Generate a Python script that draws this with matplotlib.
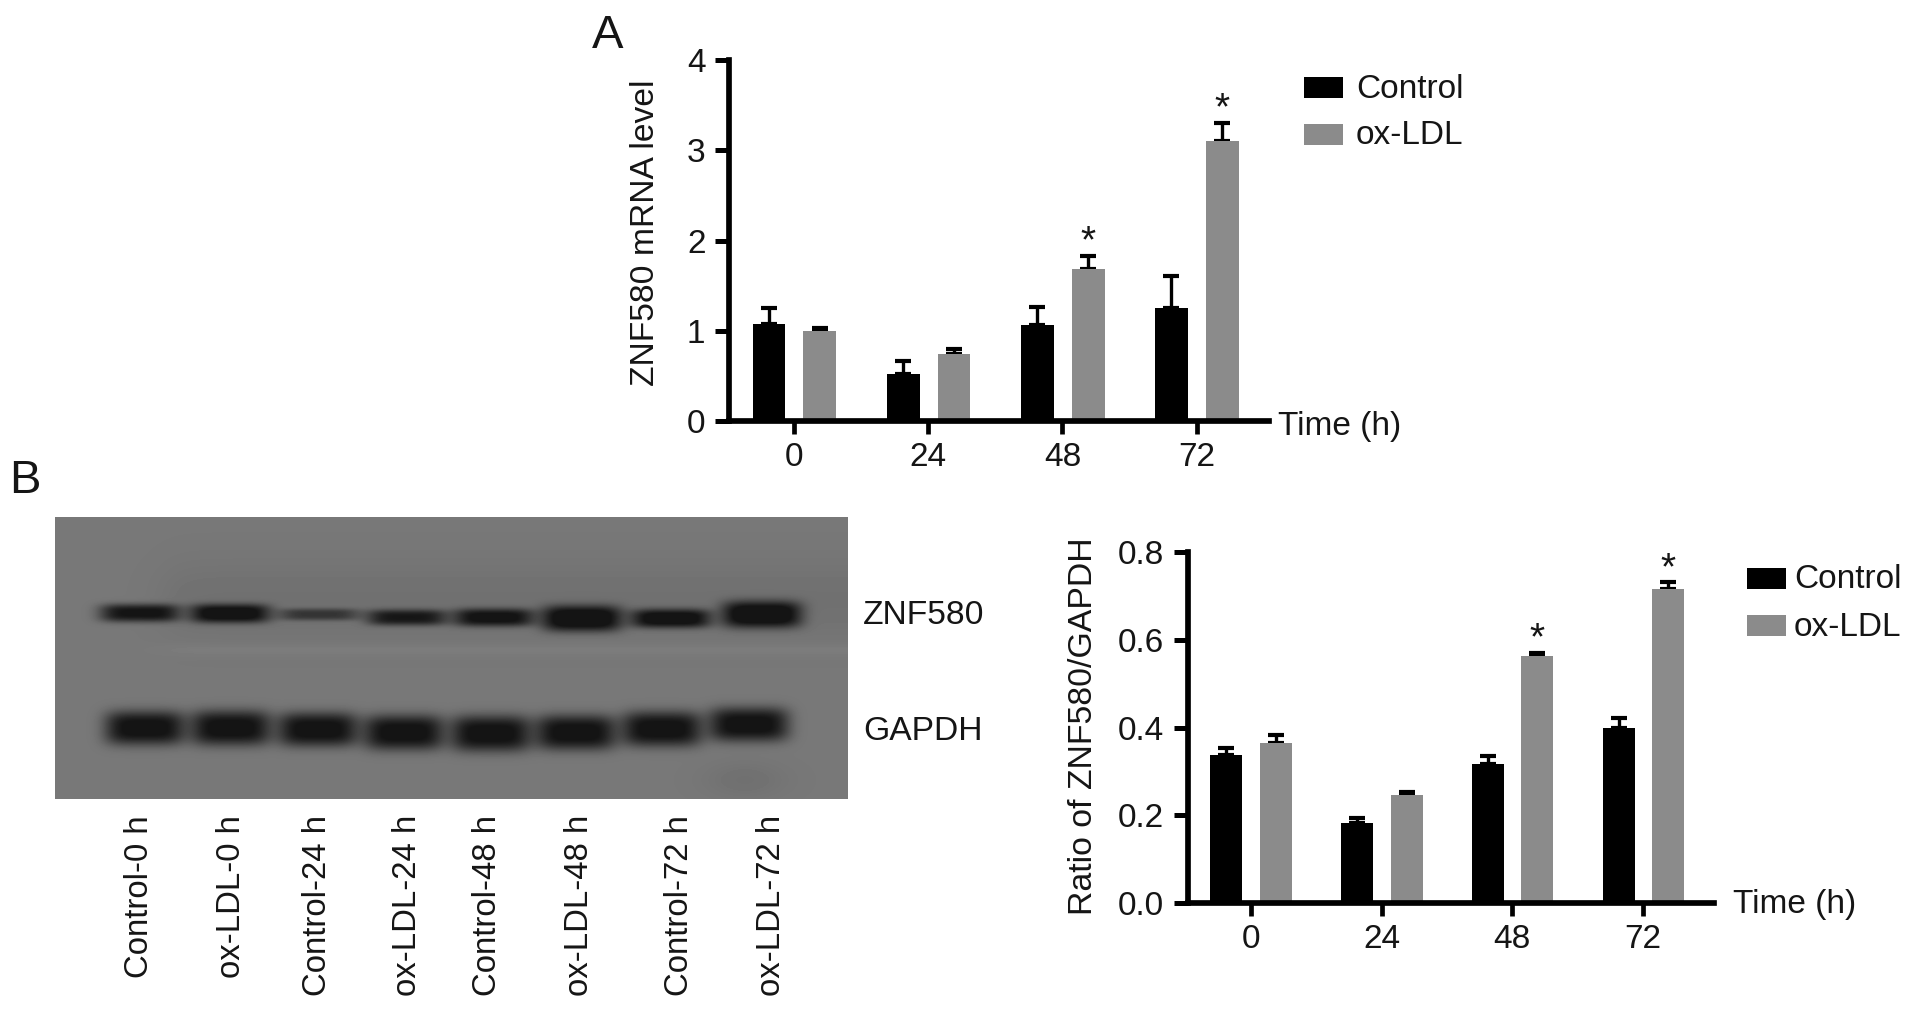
import numpy as np
import matplotlib
matplotlib.use('Agg')
import matplotlib.pyplot as plt
from matplotlib.patches import Rectangle

plt.rcParams['font.family'] = ['Liberation Sans', 'DejaVu Sans']

W, H = 1913, 1009
ink = '#151515'
grey = '#8b8b8b'

times = ['0', '24', '48', '72']

# panel A
mrna_control = [1.08, 0.525, 1.06, 1.25]
mrna_control_err = [0.175, 0.145, 0.20, 0.355]
mrna_oxldl = [1.00, 0.74, 1.69, 3.10]
mrna_oxldl_err = [0.03, 0.06, 0.14, 0.20]
mrna_ticks = [0, 1, 2, 3, 4]
mrna_stars = [2, 3]

# panel B chart
ratio_control = [0.337, 0.183, 0.317, 0.399]
ratio_control_err = [0.016, 0.012, 0.018, 0.023]
ratio_oxldl = [0.365, 0.246, 0.563, 0.716]
ratio_oxldl_err = [0.018, 0.008, 0.006, 0.014]
ratio_ticks = [0.0, 0.2, 0.4, 0.6, 0.8]
ratio_stars = [2, 3]

# blot lanes
lane_labels = ['Control-0 h', 'ox-LDL-0 h', 'Control-24 h', 'ox-LDL-24 h',
               'Control-48 h', 'ox-LDL-48 h', 'Control-72 h', 'ox-LDL-72 h']
lane_label_x = [140, 231, 318, 407, 488, 579, 680, 771]
znf_x = [140, 230, 319, 407, 494, 582, 671, 762]
znf_y = [613, 613.5, 614.5, 617.5, 617.5, 618.5, 618.5, 614.5]
znf_h = [9.0, 9.5, 6.0, 8.0, 9.0, 13.0, 9.5, 13.5]
znf_dark = [1.0, 1.08, 0.6, 0.9, 1.0, 1.15, 1.08, 1.15]
gapdh_x = [145, 231, 318, 404, 491, 576, 662, 749]
gapdh_y = [728, 728, 729.5, 732.5, 733.5, 732.5, 729, 724.5]
gapdh_h = [17, 17.5, 17, 17.5, 18, 17.5, 17.5, 17]


def box(x0, y0, x1, y1):
    # picture pixels (y down) to figure fractions
    return [x0 / W, 1 - y1 / H, (x1 - x0) / W, (y1 - y0) / H]


def put(x, y, s, **kw):
    kw.setdefault('color', ink)
    kw.setdefault('fontsize', 24)
    fig.text(x / W, 1 - y / H, s, **kw)


def bars(ax, c, ce, o, oe, ticks, stars, star_gap, fmt):
    x = np.arange(len(c))
    for xs, v, e, col in [(x - 0.187, c, ce, 'black'), (x + 0.192, o, oe, grey)]:
        ax.bar(xs, v, 0.245, color=col, zorder=2)
        ax.errorbar(xs, v, yerr=[np.zeros(len(v)), e], fmt='none', ecolor='black',
                    elinewidth=2.4, capsize=6, capthick=3, zorder=1)
    for i in stars:
        ax.text(i + 0.192, o[i] + oe[i] + star_gap, '*', ha='center', va='center',
                fontsize=28, color=ink)
    ax.set_xlim(-0.485, 3.54)
    ax.set_ylim(0, ticks[-1])
    ax.set_xticks(x)
    ax.set_xticklabels(times)
    ax.set_yticks(ticks)
    ax.set_yticklabels([fmt % t for t in ticks])
    ax.tick_params(axis='y', length=10, width=3.6, pad=7, labelsize=24, labelcolor=ink)
    ax.tick_params(axis='x', length=9, width=3.4, pad=6, labelsize=24, labelcolor=ink)
    ax.spines['top'].set_visible(False)
    ax.spines['right'].set_visible(False)
    ax.spines['left'].set_linewidth(4.1)
    ax.spines['bottom'].set_linewidth(4.1)
    ax.patch.set_alpha(0)


fig = plt.figure(figsize=(W / 100, H / 100), dpi=100)

# A
ax1 = fig.add_axes(box(729, 60, 1269, 421.2))
bars(ax1, mrna_control, mrna_control_err, mrna_oxldl, mrna_oxldl_err,
     mrna_ticks, mrna_stars, 0.15, '%d')
put(645, 233, 'ZNF580 mRNA level', rotation=90, ha='center', va='center', fontsize=24.2)
put(1278, 426, 'Time (h)', ha='left', va='center')

# B chart
ax2 = fig.add_axes(box(1187.5, 551.7, 1713.7, 903.3))
bars(ax2, ratio_control, ratio_control_err, ratio_oxldl, ratio_oxldl_err,
     ratio_ticks, ratio_stars, 0.031, '%.1f')
put(1083, 726, 'Ratio of ZNF580/GAPDH', rotation=90, ha='center', va='center', fontsize=24.4)
put(1733, 904, 'Time (h)', ha='left', va='center')

# legends
for px, tx, y1, y2 in [(1304, 1356, 87, 134), (1746.5, 1794, 578, 625)]:
    for y, col, lab in [(y1, 'black', 'Control'), (y2, grey, 'ox-LDL')]:
        fig.add_artist(Rectangle((px / W, 1 - (y + 10.5) / H), 39 / W, 21 / H,
                                 transform=fig.transFigure, color=col, lw=0))
        put(tx, y + 2, lab, ha='left', va='center')

# panel letters
put(592, 48, 'A', fontsize=34, ha='left', va='baseline')
put(9, 493, 'B', fontsize=34, ha='left', va='baseline')

# blot, built on a pixel grid
x0, x1, y0, y1 = 55, 848, 517, 799
gx, gy = np.meshgrid(np.arange(x0, x1) + 0.5, np.arange(y0, y1) + 0.5)
img = np.full(gx.shape, 0.47)
fade = 0.5 * (1 + np.tanh((gx - 165) / 25))
img -= 0.03 * np.exp(-((gy - 600) / 38) ** 2) * fade
img += 0.022 * np.exp(-((gy - 650) / 6) ** 2) * fade
img -= 0.03 * np.exp(-((gx - 745) / 40) ** 2 - ((gy - 780) / 18) ** 2)
for xs, ys, hs, ds in [(znf_x, znf_y, znf_h, znf_dark),
                       (gapdh_x, gapdh_y, gapdh_h, [1.05] * 8)]:
    for bx, by, bh, bd in zip(xs, ys, hs, ds):
        band = np.exp(-np.abs((gx - bx) / 40) ** 4.5 - np.abs((gy - by) / bh) ** 3)
        img -= band * bd * 0.4
img = np.maximum(img, 0.08)
ax3 = fig.add_axes(box(x0, y0, x1, y1))
ax3.imshow(np.clip(img, 0, 1), cmap='gray', vmin=0, vmax=1, aspect='auto',
           interpolation='bilinear')
ax3.axis('off')

put(863, 616, 'ZNF580', ha='left', va='center', fontsize=24.2)
put(863, 731, 'GAPDH', ha='left', va='center', fontsize=24.2)
for lx, lab in zip(lane_label_x, lane_labels):
    put(lx, 815, lab, rotation=90, ha='center', va='top', fontsize=23.7)

fig.savefig('out.png', dpi=100)
